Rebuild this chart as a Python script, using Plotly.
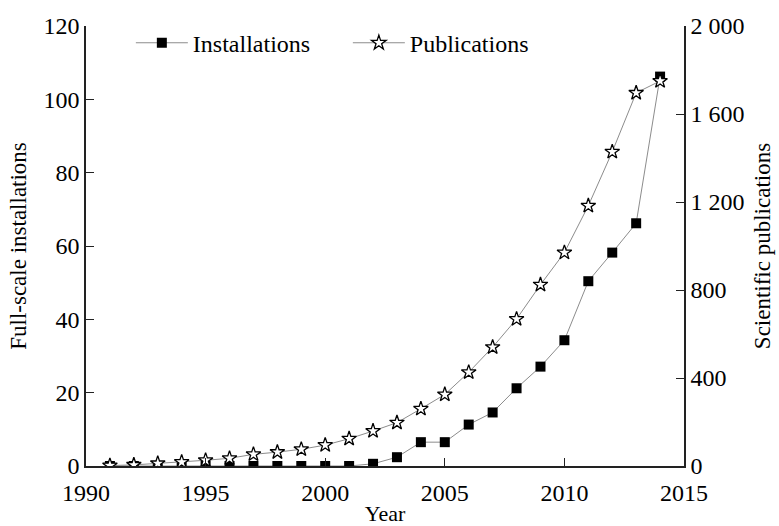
import plotly.graph_objects as go

# Yearly counts, 1991-2014
years = list(range(1991, 2015))
installations = [0, 0, 0, 0, 0, 0, 0, 0, 0, 0, 0, 0.6, 2.4, 6.5, 6.5, 11.3,
                 14.6, 21.2, 27.1, 34.3, 50.4, 58.2, 66.2, 106.2]
publications = [2, 5, 12, 18, 26, 35, 53, 63, 76, 95, 124, 159, 197, 260, 325,
                426, 540, 668, 824, 970, 1183, 1428, 1696, 1750]

left_ticks = [0, 20, 40, 60, 80, 100, 120]
right_ticks = [0, 400, 800, 1200, 1600, 2000]
x_ticks = [1990, 1995, 2000, 2005, 2010, 2015]

FONT = "Liberation Serif"
LINE = "#8c8c8c"

fig = go.Figure()
fig.add_trace(go.Scatter(
    x=years, y=installations, name="Installations", mode="lines+markers",
    line=dict(color=LINE, width=1),
    marker=dict(symbol="square", size=10, color="black",
                line=dict(color="black", width=0)),
))
fig.add_trace(go.Scatter(
    x=years, y=publications, name="Publications", mode="lines+markers",
    yaxis="y2",
    line=dict(color=LINE, width=1),
    marker=dict(symbol="star", size=11, color="white",
                line=dict(color="black", width=1.3)),
))

axis_common = dict(
    showline=True, linecolor="#222", linewidth=1.5,
    ticks="inside", ticklen=8, tickwidth=1.3, tickcolor="#222",
    showgrid=False, zeroline=False, automargin=False,
    tickfont=dict(family=FONT, size=24, color="black"),
)

fig.update_layout(
    width=779, height=526,
    margin=dict(l=86, r=95, t=26, b=60),
    paper_bgcolor="white", plot_bgcolor="white",
    font=dict(family=FONT, color="black"),
    separators=". ",
    showlegend=True,
    legend=dict(
        orientation="h", x=0.075, y=0.961, xanchor="left", yanchor="middle",
        font=dict(family=FONT, size=24), bgcolor="rgba(0,0,0,0)",
        entrywidth=150, itemwidth=52,
    ),
    xaxis=dict(
        range=[1990, 2015], tickvals=x_ticks, ticklabelstandoff=4,
        title=dict(text="Year", font=dict(family=FONT, size=22), standoff=6),
        **axis_common,
    ),
    yaxis=dict(
        range=[0, 120], tickvals=left_ticks,
        title=dict(text="Full-scale installations", font=dict(family=FONT, size=23), standoff=10),
        **axis_common,
    ),
    yaxis2=dict(
        range=[0, 2000], tickvals=right_ticks, overlaying="y", side="right",
        separatethousands=True, tickformat=",d",
        title=dict(text="Scientific publications", font=dict(family=FONT, size=23), standoff=10),
        **axis_common,
    ),
)

fig.write_html("out.html")
